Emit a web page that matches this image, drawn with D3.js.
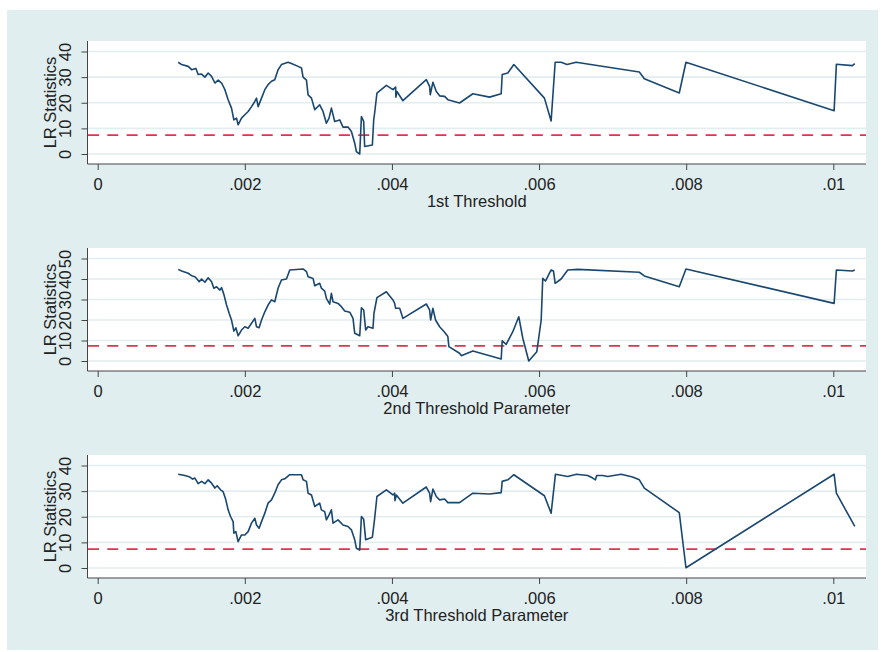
<!DOCTYPE html>
<html><head><meta charset="utf-8">
<script src="https://cdn.jsdelivr.net/npm/d3@7"></script>
<style>
body{margin:0;background:#fff;}
text{font-family:"Liberation Sans",Arial,sans-serif;fill:#222;}
</style>
</head><body>
<svg id="c" width="885" height="652"></svg>
<script>
// ---- data ----
const xTicks = [0, .002, .004, .006, .008, .01];
const xTickLabels = ["0", ".002", ".004", ".006", ".008", ".01"];
const yTicks1 = [0, 10, 20, 30, 40];
const yTicks2 = [0, 10, 20, 30, 40, 50];
const yTicks3 = [0, 10, 20, 30, 40];
const xTitles = ["1st Threshold", "2nd Threshold Parameter", "3rd Threshold Parameter"];
const yTitle = "LR Statistics";
const critical = 7.35;

const lr1 = [[.001094,35.8],[.001141,34.9],[.001230,34.2],[.001276,32.9],[.001335,33.4],[.001366,31.0],[.001412,31.2],[.001457,30.0],[.001502,31.6],[.001548,30.3],[.001593,27.7],[.001638,28.8],[.001684,27.7],[.001729,25.1],[.001773,21.2],[.001819,17.9],[.001851,13.3],[.001887,14.0],[.001909,11.4],[.001955,14.0],[.002000,15.3],[.002045,16.6],[.002091,18.5],[.002136,20.5],[.002159,21.8],[.002181,18.5],[.002227,21.8],[.002272,25.1],[.002316,27.1],[.002363,28.4],[.002407,29.0],[.002452,32.9],[.002498,34.9],[.002588,35.8],[.002634,35.3],[.002724,34.2],[.002770,33.6],[.002792,30.0],[.002838,28.8],[.002860,23.1],[.002906,21.8],[.002951,17.3],[.003018,19.2],[.003063,16.6],[.003109,12.0],[.003145,14.0],[.003177,17.9],[.003222,12.7],[.003290,13.3],[.003335,10.5],[.003403,10.5],[.003449,8.8],[.003494,4.2],[.003517,0.9],[.003562,0.0],[.003585,14.6],[.003616,12.7],[.003629,2.9],[.003734,3.5],[.003752,13.3],[.003765,16.0],[.003796,23.8],[.003924,26.8],[.004014,25.1],[.004050,26.1],[.004054,22.2],[.004068,24.4],[.004149,20.8],[.004467,29.0],[.004512,26.4],[.004521,23.1],[.004557,28.0],[.004603,24.4],[.004648,22.7],[.004716,22.5],[.004760,21.2],[.004919,19.9],[.005100,23.5],[.005327,22.2],[.005485,23.5],[.005499,31.0],[.005575,31.6],[.005657,34.9],[.006073,21.8],[.006164,12.9],[.006219,35.8],[.006300,35.8],[.006380,34.9],[.006504,35.8],[.007363,32.0],[.007431,29.4],[.007906,23.8],[.007997,35.8],[.010011,16.9],[.010042,35.0],[.010259,34.5],[.010292,35.3]];

const lr2 = [[.001094,44.7],[.001141,43.9],[.001230,42.8],[.001276,41.6],[.001321,41.1],[.001344,40.3],[.001380,38.7],[.001412,40.0],[.001457,38.4],[.001502,40.6],[.001548,38.7],[.001579,35.5],[.001616,36.2],[.001661,34.6],[.001684,35.8],[.001715,32.5],[.001752,27.3],[.001787,23.3],[.001819,20.0],[.001851,14.6],[.001878,16.2],[.001909,12.3],[.001955,15.1],[.002000,16.7],[.002045,16.0],[.002091,18.4],[.002136,20.8],[.002159,16.7],[.002194,16.2],[.002227,20.0],[.002272,24.0],[.002316,27.3],[.002363,29.8],[.002407,28.9],[.002452,35.5],[.002498,39.5],[.002566,40.0],[.002611,44.4],[.002792,44.9],[.002838,43.6],[.002860,41.1],[.002927,40.3],[.002951,36.7],[.003018,37.9],[.003041,35.5],[.003086,34.1],[.003109,30.6],[.003154,27.7],[.003177,33.0],[.003199,28.9],[.003267,28.1],[.003313,26.5],[.003358,24.4],[.003426,23.8],[.003471,20.8],[.003494,13.5],[.003562,12.3],[.003585,26.0],[.003616,24.9],[.003643,15.1],[.003674,16.7],[.003742,16.0],[.003756,23.3],[.003796,30.9],[.003924,33.8],[.004014,29.8],[.004037,28.1],[.004050,25.7],[.004105,25.7],[.004149,20.8],[.004467,27.8],[.004512,24.9],[.004526,20.0],[.004557,25.7],[.004593,20.0],[.004648,16.7],[.004716,14.0],[.004760,11.9],[.004774,7.0],[.004919,3.8],[.004942,2.6],[.005100,4.9],[.005485,1.0],[.005499,9.8],[.005553,8.1],[.005643,14.3],[.005724,21.6],[.005779,11.1],[.005860,0.0],[.005969,4.5],[.006029,20.0],[.006050,40.3],[.006087,39.0],[.006164,44.4],[.006196,43.9],[.006219,37.9],[.006300,40.0],[.006390,44.4],[.006526,44.7],[.007363,43.3],[.007431,41.5],[.007906,36.2],[.007997,44.9],[.010011,28.1],[.010042,44.4],[.010259,43.9],[.010292,44.4]];

const lr3 = [[.001094,36.6],[.001185,36.1],[.001253,35.5],[.001290,34.7],[.001321,35.1],[.001366,32.9],[.001412,33.8],[.001457,32.9],[.001502,34.4],[.001548,33.1],[.001593,31.2],[.001624,32.1],[.001670,30.5],[.001705,29.8],[.001742,26.6],[.001773,22.7],[.001806,20.1],[.001841,18.1],[.001851,13.6],[.001878,14.2],[.001909,10.3],[.001955,12.9],[.002000,12.9],[.002045,14.2],[.002091,17.5],[.002136,19.4],[.002159,16.8],[.002194,15.5],[.002227,18.1],[.002272,21.4],[.002316,25.3],[.002363,26.6],[.002407,29.2],[.002452,32.5],[.002498,34.4],[.002543,34.8],[.002611,36.4],[.002770,36.4],[.002792,34.4],[.002838,33.8],[.002860,29.2],[.002906,28.5],[.002951,24.0],[.003018,25.3],[.003041,22.7],[.003086,22.0],[.003109,18.8],[.003145,20.7],[.003177,22.7],[.003199,17.5],[.003267,18.8],[.003335,16.8],[.003403,16.2],[.003449,14.9],[.003494,11.0],[.003517,7.7],[.003562,7.0],[.003585,20.1],[.003616,19.0],[.003643,11.0],[.003734,12.0],[.003765,19.4],[.003796,27.9],[.003924,30.5],[.004014,28.5],[.004037,29.2],[.004041,26.3],[.004060,28.5],[.004149,25.3],[.004467,31.6],[.004512,29.2],[.004526,25.9],[.004557,30.8],[.004603,27.9],[.004648,26.6],[.004716,26.9],[.004760,25.5],[.004919,25.5],[.005100,29.2],[.005327,28.9],[.005485,29.4],[.005499,33.8],[.005575,34.4],[.005657,36.4],[.006073,28.2],[.006164,21.4],[.006223,36.6],[.006390,35.7],[.006508,36.6],[.006661,36.1],[.006729,35.1],[.006766,34.4],[.006783,36.1],[.006865,36.1],[.006933,35.7],[.007115,36.6],[.007272,35.5],[.007363,34.4],[.007431,31.2],[.007906,21.6],[.007997,0.1],[.010011,36.6],[.010042,29.2],[.010292,16.2]];

// ---- layout ----
const W = 885, H = 652;
const svg = d3.select("#c");
const BG = "#e0eef0", GRID = "#e3edef", LINE = "#1a476f", RED = "#dc3550", AX = "#444";
const fs = 16.5;

svg.append("rect").attr("x", 7).attr("y", 10).attr("width", 871).attr("height", 640).attr("fill", BG);

const left = 87.5, right = 866;
const x = d3.scaleLinear().domain([0, .01]).range([97.7, 833.3]);

const panels = [
  {data: lr1, ticks: yTicks1, top: 41, bottom: 164, title: xTitles[0]},
  {data: lr2, ticks: yTicks2, top: 248, bottom: 371, title: xTitles[1]},
  {data: lr3, ticks: yTicks3, top: 455, bottom: 578, title: xTitles[2]}
];

panels.forEach(p => {
  const ymax = d3.max(p.ticks);
  const y = d3.scaleLinear().domain([0, ymax]).range([p.bottom - 10, p.top + 10.5]);
  const g = svg.append("g");
  g.append("rect").attr("x", left).attr("y", p.top).attr("width", right - left)
    .attr("height", p.bottom - p.top).attr("fill", "#fff");
  // gridlines
  g.selectAll(".grid").data(p.ticks).join("line")
    .attr("x1", left + 0.5).attr("x2", right).attr("y1", d => y(d)).attr("y2", d => y(d))
    .attr("stroke", GRID).attr("stroke-width", 1.6);
  // critical value
  g.append("line").attr("x1", left + 0.5).attr("x2", right)
    .attr("y1", y(critical)).attr("y2", y(critical))
    .attr("stroke", RED).attr("stroke-width", 1.8).attr("stroke-dasharray", "11,8.3");
  // series
  const line = d3.line().x(d => x(d[0])).y(d => y(d[1]));
  g.append("path").datum(p.data).attr("d", line).attr("fill", "none")
    .attr("stroke", LINE).attr("stroke-width", 1.6).attr("stroke-linejoin", "round");

  // y axis
  const ya = g.append("g").attr("transform", `translate(${left},0)`)
    .call(d3.axisLeft(y).tickValues(p.ticks).tickSize(6).tickSizeOuter(0));
  ya.select(".domain").remove();
  ya.selectAll(".tick line").attr("stroke", AX);
  ya.selectAll(".tick text").attr("x", 0).attr("y", -16.2).attr("dy", 0)
    .attr("text-anchor", "middle").attr("transform", "rotate(-90)")
    .style("font-size", fs + "px").attr("fill", "#222");
  g.append("line").attr("x1", left).attr("x2", left).attr("y1", p.top).attr("y2", p.bottom)
    .attr("stroke", AX).attr("stroke-width", 1);

  // x axis
  const xa = g.append("g").attr("transform", `translate(0,${p.bottom})`)
    .call(d3.axisBottom(x).tickValues(xTicks).tickFormat((d, i) => xTickLabels[i]).tickSize(6).tickSizeOuter(0));
  xa.select(".domain").remove();
  xa.selectAll(".tick line").attr("stroke", AX);
  xa.selectAll(".tick text").attr("y", 25.5).attr("dy", 0)
    .style("font-size", fs + "px").attr("fill", "#222");
  g.append("line").attr("x1", left).attr("x2", right).attr("y1", p.bottom).attr("y2", p.bottom)
    .attr("stroke", AX).attr("stroke-width", 1);

  // titles
  g.append("text").attr("x", (left + right) / 2).attr("y", p.bottom + 43)
    .attr("text-anchor", "middle").style("font-size", fs + "px").text(p.title);
  g.append("text").attr("transform", `translate(55.5,${(p.top + p.bottom) / 2}) rotate(-90)`)
    .attr("text-anchor", "middle").style("font-size", fs + "px").text(yTitle);
});
</script>
</body></html>
